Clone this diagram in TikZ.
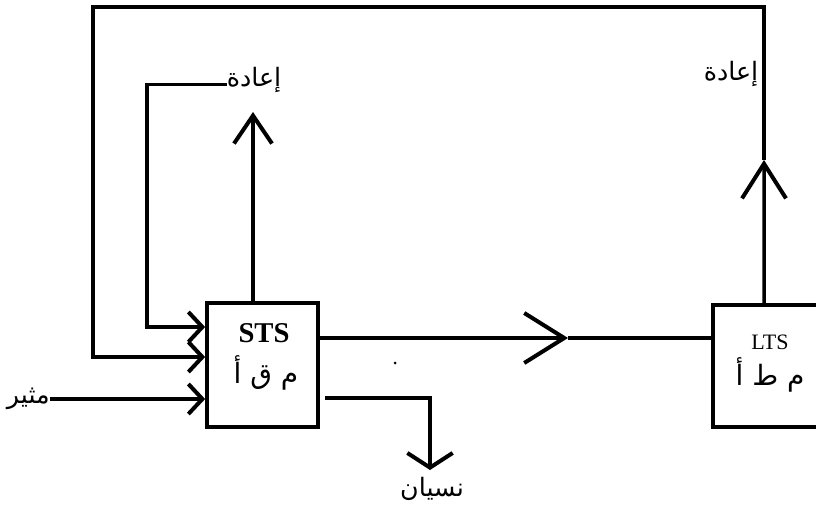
\documentclass[tikz,border=0pt]{standalone}
\usepackage{fontspec}
\setmainfont{Liberation Serif}
\newfontfamily\arabicfont[Script=Arabic]{DejaVu Sans}
\TeXXeTstate=1
\usetikzlibrary{arrows.meta}
\begin{document}
\begin{tikzpicture}[x=0.75pt,y=-0.75pt,
  line/.style={line width=2.6pt},
  box/.style={draw, line width=2.8pt, inner sep=0pt},
  arab/.style={font=\arabicfont\fontsize{19}{22}\selectfont, inner sep=0pt},
  arabbox/.style={font=\arabicfont\fontsize{21}{24}\selectfont, inner sep=0pt},
  tipL/.style={-{Straight Barb[length=10.5pt,width=22.5pt,line width=3pt]}},
  tipU/.style={-{Straight Barb[length=21pt,width=28.5pt,line width=3pt]}},
  tipUU/.style={-{Straight Barb[length=26pt,width=33pt,line width=3pt]}},
  tipM/.style={-{Straight Barb[length=30pt,width=37.5pt,line width=3pt]}},
  tipD/.style={-{Straight Barb[length=11pt,width=34pt,line width=3pt]}}]
\useasboundingbox (0,0) rectangle (816,506);
\clip (0,0) rectangle (816,506);
% boxes
\node[box, minimum width=83.25pt, minimum height=93pt] (sts) at (262.5,365) {};
\node[box, minimum width=87.75pt, minimum height=91.5pt] (lts) at (771.5,366) {};
% box texts
\node[font=\bfseries\fontsize{21.5}{24}\selectfont, inner sep=0pt] (ststxt) at (264,333) {STS};
\node[arabbox] (stsar) at (266,373) {\beginR م ق أ\endR};
\node[font=\fontsize{16.5}{19}\selectfont, inner sep=0pt] (ltstxt) at (770,342) {LTS};
\node[arabbox] (ltsar) at (770,375) {\beginR م ط أ\endR};
% labels
\node[arab, anchor=base] (rep1) at (254,87) {\beginR إعادة\endR};
\node[arab, anchor=base] (rep2) at (731,81) {\beginR إعادة\endR};
\node[arab, anchor=base east] (stim) at (50,403) {\beginR مثير\endR};
\node[arab, anchor=north] (forget) at (432,477) {\beginR نسيان\endR};
% helper coordinates
\coordinate (ltsTop) at ([xshift=-5.6pt]lts.north);
\coordinate (ltsArrow) at (764,160);
\coordinate (stsTop) at ([xshift=-7.125pt]sts.north);
\coordinate (stsArrow) at (253,112);
\coordinate (mid) at (568,338);
\coordinate (forgetTip) at (430,470);
% connectors
\draw[line, tipL] ([yshift=2pt]rep1.base west) -| (147,327) -- (sts.west |- 0,327);
\draw[line, tipUU] (ltsTop) -- (ltsArrow);
\draw[line, tipL] (ltsArrow) -- (764,7) -| (93,357) -- (sts.west |- 0,357);
\draw[line, tipL] ([yshift=3pt]stim.base east) -- (sts.west |- 0,399);
\draw[line, tipU] (stsTop) -- (stsArrow);
\draw[line, tipM] ([yshift=20.25pt]sts.east) -- (mid);
\draw[line] (mid) -- (lts.west |- mid);
\draw[line, tipD] ([xshift=4pt,yshift=-24.75pt]sts.east) -| (forgetTip);
% stray dot
\fill (395,363) circle (1.5);
\end{tikzpicture}
\end{document}
